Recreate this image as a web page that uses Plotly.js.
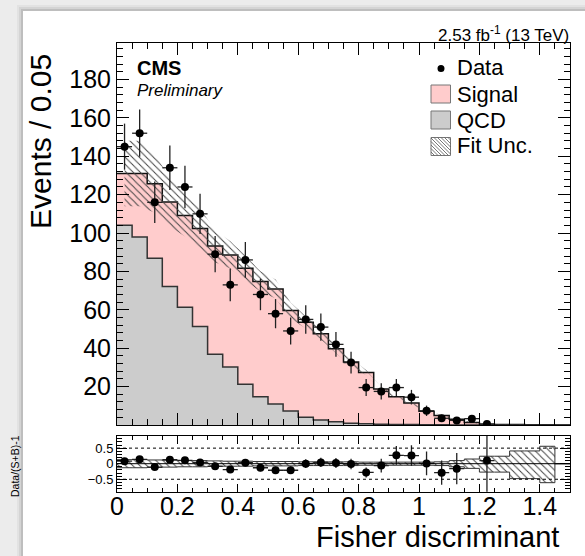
<!DOCTYPE html>
<html><head><meta charset="utf-8">
<script src="https://cdn.plot.ly/plotly-3.0.1.min.js"></script>
<style>html,body{margin:0;padding:0;background:#ececec;}#chart{width:585px;height:556px;}</style>
</head><body><div id="chart"></div>
<script>
// ---- data ----
const binEdges = [0,0.05,0.1,0.15,0.2,0.25,0.3,0.35,0.4,0.45,0.5,0.55,0.6,0.65,0.7,0.75,0.8,0.85,0.9,0.95,1,1.05,1.1,1.15,1.2,1.25,1.3,1.35,1.4,1.45,1.5];
const dataCounts = [145,152,116,134,124,110,89,73,86,68,58,49,55,51,42,32.5,19.5,17.5,19.5,14.5,7.4,3.5,2.4,3.3,0.5];
const dataErrors = [12.0,12.3,10.8,11.6,11.1,10.5,9.4,8.5,9.3,8.2,7.6,7.0,7.4,7.1,6.5,5.7,4.4,4.2,4.4,3.8,2.7,1.9,1.5,1.8,0.7];
const totalPred = [131,131,125.7,116.2,109.1,102.4,93.2,88.6,81.7,74.8,70.8,59.6,53.5,47.5,39.7,32.8,27.3,18.8,14.7,11.4,7.2,4.9,3.0,1.3,0.45,0.3,0.2,0.12,0.08,0.05];
const qcdPred = [104,98,86.9,72.2,61.3,51.3,36.9,30.2,21.2,14.7,10.9,7.3,4.0,2.6,1.7,0.9,0.6,0.4,0.3,0.2,0.15,0.1,0.05,0.03,0.02,0.01,0,0,0,0];
const relUncUp = [0.13,0.13,0.12,0.11,0.10,0.10,0.09,0.08,0.08,0.07,0.07,0.07,0.06,0.06,0.06,0.06,0.05,0.05,0.05,0.05,0.05,0.06,0.10,0.15,0.24,0.24,0.41,0.41,0.56,0];
const relUncDn = [0.13,0.13,0.12,0.11,0.10,0.10,0.09,0.08,0.08,0.07,0.07,0.07,0.06,0.06,0.06,0.06,0.05,0.05,0.05,0.05,0.05,0.06,0.10,0.15,0.27,0.27,0.48,0.48,0.61,0];
const ratioValues = [0.08,0.14,-0.11,0.13,0.11,0.04,-0.08,-0.19,0.03,-0.13,-0.21,-0.21,0.0,0.04,0.02,-0.01,-0.28,-0.06,0.27,0.26,0.01,-0.29,-0.16,null,0.1];
const ratioErrors = [0.09,0.094,0.086,0.10,0.10,0.10,0.10,0.096,0.11,0.11,0.11,0.12,0.14,0.15,0.16,0.17,0.16,0.22,0.30,0.33,0.38,0.39,0.50,null,1.5];
const xTickVals = [0,0.2,0.4,0.6,0.8,1,1.2,1.4];
const xTickText = ['0','0.2','0.4','0.6','0.8','1','1.2','1.4'];
const yTickVals = [20,40,60,80,100,120,140,160,180];
const yTickText = ['20','40','60','80','100','120','140','160','180'];
const ratioTickVals = [-0.5,0,0.5];
const ratioTickText = ['\u22120.5','0','0.5'];

// ---- helpers ----
const W = 585, H = 556;
const px = x => x / W, py = y => 1 - y / H;
const centers = binEdges.slice(0, -1).map((e, i) => (e + binEdges[i + 1]) / 2);
const stepY = a => a.concat([a[a.length - 1]]);
const bandUp = totalPred.map((t, i) => t * (1 + relUncUp[i]));
const bandLo = totalPred.map((t, i) => t * (1 - relUncDn[i]));
const ratioUp = relUncUp.map(u => u);
const ratioLo = relUncDn.map(u => -u);
const hatch = {shape: '\\', fgcolor: '#444', bgcolor: 'rgba(0,0,0,0)', size: 5, solidity: 0.2};
const FONT = 'Liberation Sans, Arial, Helvetica, sans-serif';

const traces = [
  // main panel
  {x: binEdges, y: stepY(totalPred), type: 'scatter', mode: 'lines', xaxis: 'x2', yaxis: 'y',
   line: {shape: 'hv', color: '#111', width: 1.5}, fill: 'tozeroy', fillcolor: '#ffcccc', hoverinfo: 'skip'},
  {x: binEdges, y: stepY(qcdPred), type: 'scatter', mode: 'lines', xaxis: 'x2', yaxis: 'y',
   line: {shape: 'hv', color: '#333', width: 1.5}, fill: 'tozeroy', fillcolor: '#cccccc', hoverinfo: 'skip'},
  {x: centers, y: bandLo, type: 'scatter', mode: 'lines', xaxis: 'x2', yaxis: 'y',
   line: {width: 0, color: 'rgba(0,0,0,0)'}, hoverinfo: 'skip'},
  {x: centers, y: bandUp, type: 'scatter', mode: 'lines', xaxis: 'x2', yaxis: 'y',
   line: {width: 0, color: 'rgba(0,0,0,0)'}, fill: 'tonexty', fillcolor: 'rgba(0,0,0,0)', fillpattern: hatch, hoverinfo: 'skip'},
  {x: centers.slice(0, dataCounts.length), y: dataCounts, type: 'scatter', mode: 'markers', xaxis: 'x2', yaxis: 'y',
   marker: {color: '#000', size: 8},
   error_y: {type: 'data', array: dataErrors, color: '#222', thickness: 1.3, width: 0},
   error_x: {type: 'constant', value: 0.025, color: '#222', thickness: 1.3, width: 0}},
  // ratio panel
  {x: binEdges, y: stepY(ratioLo), type: 'scatter', mode: 'lines', xaxis: 'x', yaxis: 'y2',
   line: {shape: 'hv', width: 1, color: '#333'}, hoverinfo: 'skip'},
  {x: binEdges, y: stepY(ratioUp), type: 'scatter', mode: 'lines', xaxis: 'x', yaxis: 'y2',
   line: {shape: 'hv', width: 1, color: '#333'}, fill: 'tonexty', fillcolor: 'rgba(0,0,0,0)', fillpattern: hatch, hoverinfo: 'skip'},
  {x: centers.slice(0, ratioValues.length), y: ratioValues, type: 'scatter', mode: 'markers', xaxis: 'x', yaxis: 'y2',
   marker: {color: '#000', size: 8},
   error_y: {type: 'data', array: ratioErrors, color: '#222', thickness: 1.3, width: 0},
   error_x: {type: 'constant', value: 0.025, color: '#222', thickness: 1.3, width: 0}}
];

// hatched legend box path
function hatchPath(x0, y0, x1, y1, step) {
  let p = '';
  const w = x1 - x0, h = y1 - y0;
  for (let k = -h; k < w; k += step) {
    let sx = x0 + k, sy = y0, ex = x0 + k + h, ey = y1;
    if (sx < x0) { sy = y0 + (x0 - sx); sx = x0; }
    if (ex > x1) { ey = y1 - (ex - x1); ex = x1; }
    p += `M${px(sx)},${py(sy)} L${px(ex)},${py(ey)} `;
  }
  return p;
}

const shapes = [
  // card background with soft shadow
  {type: 'rect', xref: 'paper', yref: 'paper', x0: px(17), x1: 1, y0: 0, y1: py(5), fillcolor: 'rgba(0,0,0,0.04)', line: {width: 0}, layer: 'below'},
  {type: 'rect', xref: 'paper', yref: 'paper', x0: px(19), x1: 1, y0: 0, y1: py(7), fillcolor: 'rgba(0,0,0,0.06)', line: {width: 0}, layer: 'below'},
  {type: 'rect', xref: 'paper', yref: 'paper', x0: px(21), x1: 1, y0: 0, y1: py(9), fillcolor: 'rgba(0,0,0,0.10)', line: {width: 0}, layer: 'below'},
  {type: 'rect', xref: 'paper', yref: 'paper', x0: px(23), x1: 1, y0: 0, y1: py(11), fillcolor: '#ffffff', line: {width: 0}, layer: 'below'},
  // ratio reference lines
  {type: 'line', xref: 'x', yref: 'y2', x0: 0, x1: 1.5, y0: 0.5, y1: 0.5, line: {color: '#000', width: 1, dash: 'dot'}},
  {type: 'line', xref: 'x', yref: 'y2', x0: 0, x1: 1.5, y0: -0.5, y1: -0.5, line: {color: '#000', width: 1, dash: 'dot'}},
  {type: 'line', xref: 'x', yref: 'y2', x0: 0, x1: 1.5, y0: 0, y1: 0, line: {color: '#000', width: 1}},
  // legend boxes
  {type: 'circle', xref: 'paper', yref: 'paper', x0: px(437.5), x1: px(444.5), y0: py(72), y1: py(65), fillcolor: '#000', line: {width: 0}},
  {type: 'rect', xref: 'paper', yref: 'paper', x0: px(431), x1: px(450.5), y0: py(103), y1: py(85), fillcolor: '#ffcccc', line: {color: '#777', width: 1}},
  {type: 'rect', xref: 'paper', yref: 'paper', x0: px(431), x1: px(450.5), y0: py(129), y1: py(111), fillcolor: '#cccccc', line: {color: '#777', width: 1}},
  {type: 'rect', xref: 'paper', yref: 'paper', x0: px(431), x1: px(450.5), y0: py(155.5), y1: py(137.5), fillcolor: '#ffffff', line: {color: '#777', width: 1}},
  {type: 'path', xref: 'paper', yref: 'paper', path: hatchPath(431, 137.5, 450.5, 155.5, 3.5), line: {color: '#555', width: 0.8}}
];

const ann = (text, x, y, size, opts) => Object.assign({text, xref: 'paper', yref: 'paper', x: px(x), y: py(y),
  showarrow: false, font: {size, family: FONT, color: '#000'}, xanchor: 'left', yanchor: 'middle'}, opts || {});

const annotations = [
  ann('2.53 fb<sup>-1</sup> (13 TeV)', 571, 34, 17, {xanchor: 'right'}),
  ann('<b>CMS</b>', 135, 68, 20),
  ann('<i>Preliminary</i>', 135, 91, 17),
  ann('Events / 0.05', 41, 142, 30, {textangle: -90, xanchor: 'center'}),
  ann('Fisher discriminant', 561, 537, 29, {xanchor: 'right'}),
  ann('Data/(S+B)-1', 15, 466, 10.5, {textangle: -90, xanchor: 'center'}),
  ann('Data', 455, 67, 22),
  ann('Signal', 455, 94, 22),
  ann('QCD', 455, 120, 22),
  ann('Fit Unc.', 455, 146, 22)
];

const axCommon = {showline: true, linecolor: '#000', linewidth: 1, mirror: 'ticks', showgrid: false, zeroline: false,
  ticks: 'inside', tickcolor: '#000', tickwidth: 1};

const layout = {
  width: W, height: H, margin: {l: 0, r: 0, t: 0, b: 0},
  paper_bgcolor: '#ececec', plot_bgcolor: 'rgba(0,0,0,0)', showlegend: false,
  font: {family: FONT, color: '#000'},
  xaxis: Object.assign({}, axCommon, {domain: [px(117), px(570)], anchor: 'y2', range: [0, 1.5],
    tickmode: 'array', tickvals: xTickVals, ticktext: xTickText, ticklen: 8, ticklabelstandoff: -8,
    minor: {tickmode: 'linear', tick0: 0, dtick: 0.05, ticks: 'inside', ticklen: 4, tickcolor: '#000', tickwidth: 1},
    tickfont: {size: 25, family: FONT}}),
  xaxis2: Object.assign({}, axCommon, {domain: [px(117), px(570)], anchor: 'y', range: [0, 1.5], matches: 'x',
    tickmode: 'array', tickvals: xTickVals, showticklabels: false, ticklen: 12,
    minor: {tickmode: 'linear', tick0: 0, dtick: 0.05, ticks: 'inside', ticklen: 6, tickcolor: '#000', tickwidth: 1}}),
  yaxis: Object.assign({}, axCommon, {domain: [py(425), py(43)], anchor: 'x2', range: [0, 199],
    tickmode: 'array', tickvals: yTickVals, ticktext: yTickText, ticklen: 12,
    minor: {tickmode: 'linear', tick0: 0, dtick: 4, ticks: 'inside', ticklen: 6, tickcolor: '#000', tickwidth: 1},
    tickfont: {size: 25, family: FONT}}),
  yaxis2: Object.assign({}, axCommon, {domain: [py(491.7), py(435.7)], anchor: 'x', range: [-0.9, 0.9],
    tickmode: 'array', tickvals: ratioTickVals, ticktext: ratioTickText, ticklen: 10,
    minor: {tickmode: 'linear', tick0: 0, dtick: 0.1, ticks: 'inside', ticklen: 5, tickcolor: '#000', tickwidth: 1},
    tickfont: {size: 13, family: FONT}}),
  shapes, annotations
};

Plotly.newPlot('chart', traces, layout, {staticPlot: true, displayModeBar: false});
</script></body></html>
